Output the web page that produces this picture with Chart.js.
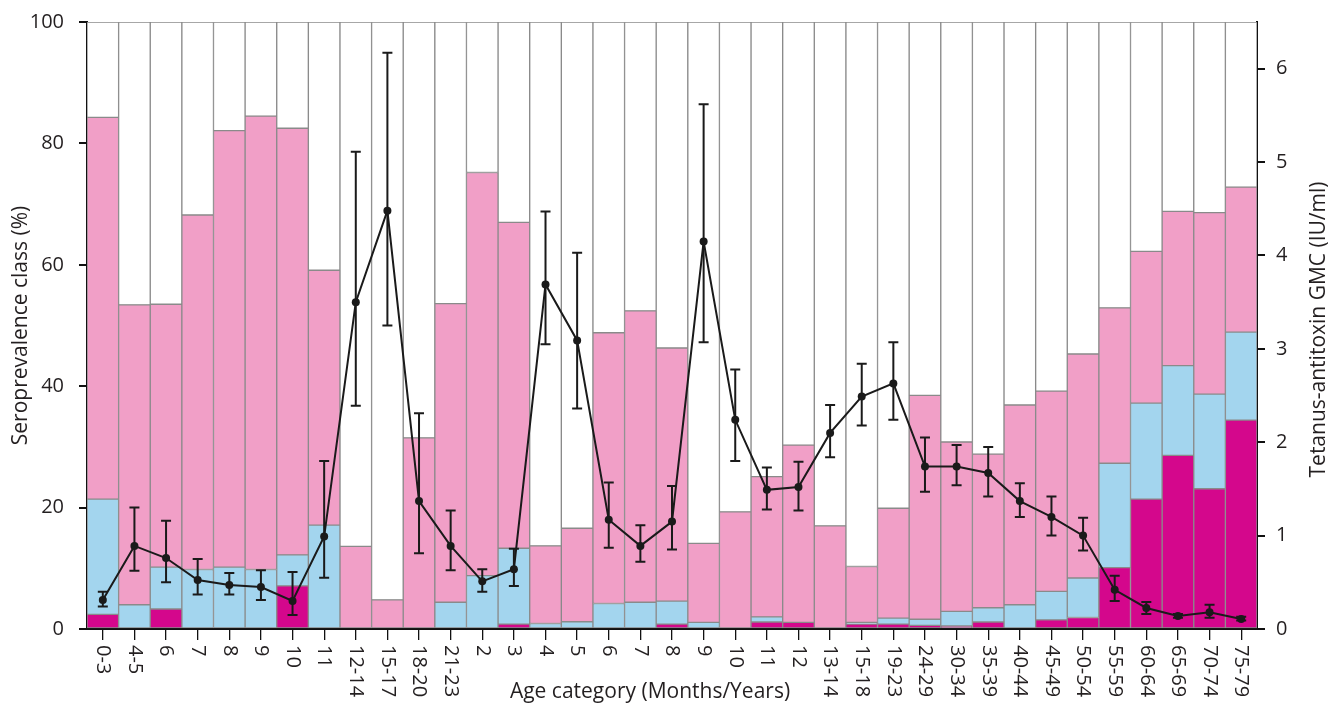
<!DOCTYPE html>
<html>
<head>
<meta charset="utf-8">
<script src="https://cdn.jsdelivr.net/npm/chart.js@4.4.1/dist/chart.umd.min.js"></script>
<style>
  html, body { margin: 0; padding: 0; background: #ffffff; }
  #c { display: block; }
</style>
</head>
<body>
<canvas id="c" width="1330" height="706"></canvas>
<script>
// Age groups: first twelve in months, the rest in years
const ageLabels = ['0-3','4-5','6','7','8','9','10','11','12-14','15-17','18-20','21-23',
  '2','3','4','5','6','7','8','9','10','11','12','13-14','15-18','19-23',
  '24-29','30-34','35-39','40-44','45-49','50-54','55-59','60-64','65-69','70-74','75-79'];

// Seroprevalence classes (% of each age group), bottom to top of the stack
const classDark = [2.4,0,3.3,0,0,0,7.1,0,0,0,0,0,0,0.8,0,0,0,0,0.8,0,0,1.15,1.1,0,0.8,0.8,0.6,0.5,1.15,0,1.5,1.9,10.1,21.4,28.6,23.1,34.4];
const classBlue = [19.0,4.0,6.9,9.8,10.2,9.8,5.1,17.1,0,0,0,4.4,8.8,12.5,0.9,1.2,4.2,4.4,3.8,1.1,0,0.85,0,0,0.3,1.0,1.0,2.4,2.35,4.0,4.7,6.5,17.2,15.8,14.8,15.6,14.5];
const classPink = [62.9,49.4,43.3,58.4,71.9,74.7,70.3,42.0,13.6,4.8,31.5,49.2,66.4,53.7,12.8,15.4,44.6,48.0,41.7,13.0,19.3,23.1,29.2,17.0,9.2,18.1,36.9,27.9,25.3,32.9,33.0,36.9,25.6,25.0,25.4,29.9,23.9];
const classWhite = [15.7,46.6,46.5,31.8,17.9,15.5,17.5,40.9,86.4,95.2,68.5,46.4,24.8,33.0,86.3,83.4,51.2,47.6,53.7,85.9,80.7,74.9,69.7,83.0,89.7,80.1,61.5,69.2,71.2,63.1,60.8,54.7,47.1,37.8,31.2,31.4,27.2];

// Tetanus-antitoxin geometric mean concentration (IU/ml) with 95% CI
const gmc     = [0.31,0.89,0.76,0.525,0.47,0.45,0.30,0.99,3.50,4.48,1.37,0.89,0.51,0.64,3.69,3.09,1.17,0.89,1.15,4.15,2.24,1.49,1.52,2.10,2.49,2.63,1.74,1.74,1.67,1.37,1.20,1.00,0.42,0.225,0.14,0.18,0.107];
const gmcLow  = [0.24,0.625,0.50,0.37,0.37,0.31,0.15,0.55,2.39,3.25,0.81,0.63,0.40,0.46,3.05,2.36,0.87,0.72,0.85,3.07,1.80,1.28,1.27,1.84,2.18,2.24,1.47,1.54,1.42,1.20,1.00,0.84,0.30,0.16,0.12,0.12,0.09];
const gmcHigh = [0.40,1.30,1.16,0.75,0.60,0.63,0.61,1.80,5.11,6.17,2.31,1.27,0.64,0.86,4.47,4.03,1.57,1.11,1.53,5.62,2.78,1.73,1.79,2.40,2.84,3.07,2.05,1.97,1.95,1.56,1.42,1.19,0.57,0.29,0.16,0.26,0.13];

const leftTicks = [0, 20, 40, 60, 80, 100];
const rightTicks = [0, 1, 2, 3, 4, 5, 6];

const FONT = "'Open Sans', 'DejaVu Sans', sans-serif";
const INK = '#231f20';
const EDGE = '#8a8a8a';

function barSet(label, data, color) {
  return {
    type: 'bar', label, data,
    backgroundColor: color, borderColor: EDGE, borderWidth: 1,
    borderSkipped: false,
    barPercentage: 1, categoryPercentage: 1,
    stack: 'sero', yAxisID: 'y', order: 2
  };
}

// CI whiskers drawn beneath the GMC line
const whiskers = {
  id: 'whiskers',
  beforeDatasetDraw(chart, args) {
    if (args.index !== 4) return;
    const { ctx } = chart;
    const x = chart.scales.x, y1 = chart.scales.y1;
    ctx.save();
    ctx.strokeStyle = '#1a1a1a';
    ctx.lineWidth = 2;
    gmc.forEach((v, i) => {
      const px = x.getPixelForValue(i);
      const top = y1.getPixelForValue(gmcHigh[i]);
      const bot = y1.getPixelForValue(gmcLow[i]);
      ctx.beginPath();
      ctx.moveTo(px, top); ctx.lineTo(px, bot);
      ctx.moveTo(px - 5, top); ctx.lineTo(px + 5, top);
      ctx.moveTo(px - 5, bot); ctx.lineTo(px + 5, bot);
      ctx.stroke();
    });
    ctx.restore();
  }
};

// Vertical category labels, axis title and right-hand title
const annotations = {
  id: 'annotations',
  afterDraw(chart) {
    const { ctx, chartArea } = chart;
    const x = chart.scales.x;
    ctx.save();
    ctx.fillStyle = INK;
    ctx.font = '20px ' + FONT;
    ctx.textAlign = 'left';
    ctx.textBaseline = 'middle';
    ageLabels.forEach((lab, i) => {
      const px = x.getPixelForValue(i);
      ctx.save();
      ctx.translate(px, chartArea.bottom + 16);
      ctx.rotate(Math.PI / 2);
      ctx.fillText(lab, 0, 0);
      ctx.restore();
    });
    ctx.font = '21px ' + FONT;
    ctx.textAlign = 'center';
    ctx.fillText('Age category (Months/Years)', 650, 692);
    ctx.save();
    ctx.translate(1319, (chartArea.top + chartArea.bottom) / 2 + 4);
    ctx.rotate(-Math.PI / 2);
    ctx.fillText('Tetanus-antitoxin GMC (IU/ml)', 0, 0);
    ctx.restore();
    ctx.restore();
  }
};

new Chart(document.getElementById('c'), {
  data: {
    labels: ageLabels,
    datasets: [
      barSet('Class 1', classDark, '#d4078c'),
      barSet('Class 2', classBlue, '#a3d5ee'),
      barSet('Class 3', classPink, '#f19fc7'),
      barSet('Class 4', classWhite, '#ffffff'),
      {
        type: 'line', label: 'GMC', data: gmc, yAxisID: 'y1', order: 1,
        borderColor: '#1a1a1a', borderWidth: 2, tension: 0,
        pointRadius: 4, pointBackgroundColor: '#1a1a1a', pointBorderWidth: 0
      }
    ]
  },
  options: {
    responsive: false,
    animation: false,
    devicePixelRatio: 1,
    layout: { padding: { top: 22, left: 0, right: 0, bottom: 0 } },
    plugins: { legend: { display: false }, tooltip: { enabled: false } },
    scales: {
      x: {
        type: 'category', stacked: true, offset: true,
        afterFit: s => { s.height = 77; },
        border: { display: true, color: '#111', width: 2 },
        grid: { offset: false, drawOnChartArea: false, drawTicks: true, tickLength: 11, color: '#111', lineWidth: 1.3 },
        ticks: { display: false }
      },
      y: {
        type: 'linear', position: 'left', stacked: true, min: 0, max: 100,
        afterFit: s => { s.width = 87; s.paddingTop = 0; s.paddingBottom = 0; },
        afterBuildTicks: s => { s.ticks = leftTicks.map(v => ({ value: v })); },
        border: { display: true, color: '#111', width: 2 },
        grid: { drawOnChartArea: false, drawTicks: true, tickLength: 8, color: '#111', lineWidth: 2 },
        ticks: { color: INK, font: { family: FONT, size: 20, lineHeight: 1 }, padding: 15 },
        title: { display: true, text: 'Seroprevalence class (%)', color: INK,
                 font: { family: FONT, size: 21 }, padding: { top: 8, bottom: 0 } }
      },
      y1: {
        type: 'linear', position: 'right', min: 0, max: 6.5,
        afterFit: s => { s.width = 73; s.paddingTop = 0; s.paddingBottom = 0; },
        afterBuildTicks: s => { s.ticks = rightTicks.map(v => ({ value: v })); },
        border: { display: true, color: '#111', width: 2 },
        grid: { drawOnChartArea: false, drawTicks: true, tickLength: 8, color: '#111', lineWidth: 2 },
        ticks: { color: INK, font: { family: FONT, size: 20, lineHeight: 1 }, padding: 11 }
      }
    }
  },
  plugins: [whiskers, annotations]
});
</script>
</body>
</html>
